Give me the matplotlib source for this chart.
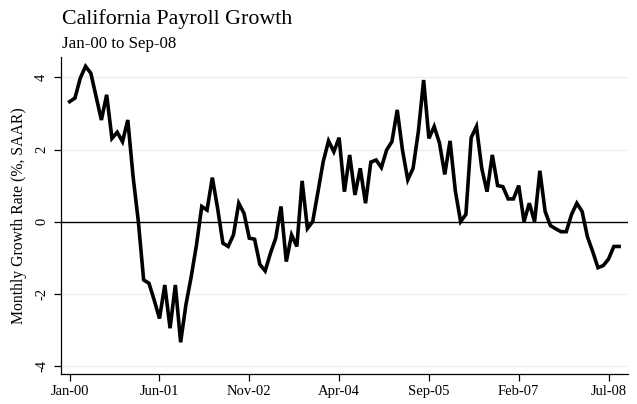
import matplotlib
matplotlib.use("Agg")
import matplotlib.pyplot as plt

# monthly growth rate, Jan-00 .. Sep-08 (%, SAAR)
growth = [
    3.33, 3.43, 3.98, 4.31, 4.12, 3.47, 2.82, 3.52, 2.31, 2.48, 2.22, 2.82,
    1.25, 0.0, -1.62, -1.71, -2.18, -2.69, -1.76, -2.96, -1.76, -3.35, -2.31, -1.53,
    -0.65, 0.42, 0.32, 1.22, 0.37, -0.60, -0.69, -0.37, 0.51, 0.23, -0.46, -0.49,
    -1.19, -1.37, -0.88, -0.46, 0.42, -1.11, -0.37, -0.69, 1.13, -0.19, 0.0, 0.83,
    1.67, 2.24, 1.94, 2.33, 0.83, 1.85, 0.74, 1.48, 0.51, 1.65, 1.71, 1.50,
    1.99, 2.22, 3.10, 1.98, 1.16, 1.48, 2.50, 3.93, 2.31, 2.64, 2.18, 1.31,
    2.24, 0.85, 0.0, 0.20, 2.33, 2.64, 1.48, 0.83, 1.85, 1.00, 0.97, 0.63,
    0.63, 1.00, 0.0, 0.51, 0.0, 1.41, 0.28, -0.11, -0.20, -0.28, -0.28, 0.20,
    0.51, 0.28, -0.42, -0.83, -1.28, -1.22, -1.04, -0.69, -0.69,
]
months = list(range(len(growth)))

xtick_pos = [0, 17, 34, 51, 68, 85, 102]
xtick_labels = ["Jan-00", "Jun-01", "Nov-02", "Apr-04", "Sep-05", "Feb-07", "Jul-08"]
ytick_pos = [-4, -2, 0, 2, 4]

plt.rcParams["font.family"] = ["Liberation Serif", "DejaVu Serif"]

fig = plt.figure(figsize=(6.37, 4.04), dpi=100)
ax = fig.add_axes([0.0953, 0.0743, 0.8907, 0.7847])

# faint grid + zero line
for yv in ytick_pos:
    if yv != 0:
        ax.axhline(yv, color="#e6eef0", lw=0.9, zorder=1)
ax.axhline(0, color="black", lw=1.0, zorder=2)

ax.plot(months, growth, color="black", lw=2.6, solid_joinstyle="miter", zorder=3)

ax.set_xlim(-1.7, 105.7)
ax.set_ylim(-4.23, 4.57)

ax.set_xticks(xtick_pos)
ax.set_xticklabels(xtick_labels, fontsize=10.5)
ax.set_yticks(ytick_pos)
ax.set_yticklabels([str(v) for v in ytick_pos], fontsize=10.5, rotation=90, va="center")

ax.tick_params(axis="both", direction="out", length=5, width=0.9, color="black")
ax.tick_params(axis="x", pad=3)
ax.tick_params(axis="y", pad=4)

for s in ["top", "right"]:
    ax.spines[s].set_visible(False)
for s in ["left", "bottom"]:
    ax.spines[s].set_linewidth(0.9)

ax.set_ylabel("Monthly Growth Rate (%, SAAR)", fontsize=11.3, labelpad=6)

fig.text(62 / 637, 1 - 24 / 404, "California Payroll Growth", fontsize=15.8, va="baseline", ha="left")
fig.text(62 / 637, 1 - 47.5 / 404, "Jan-00 to Sep-08", fontsize=12.2, va="baseline", ha="left")

fig.savefig("out.png", dpi=100)
